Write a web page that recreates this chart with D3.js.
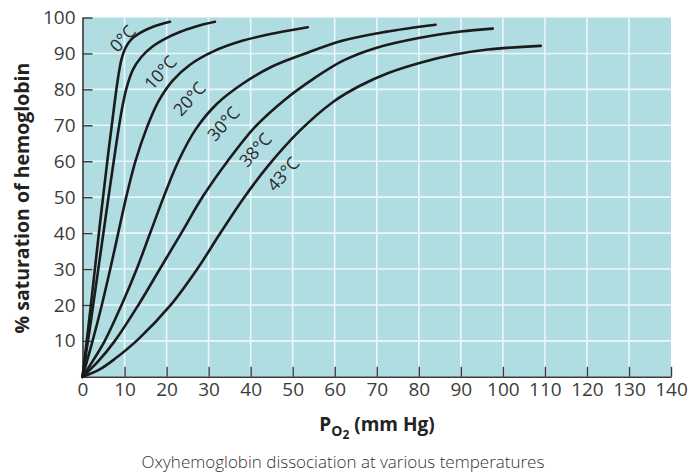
<!DOCTYPE html>
<html><head><meta charset="utf-8">
<script src="https://cdn.jsdelivr.net/npm/d3@7/dist/d3.min.js"></script>
<style>
html,body{margin:0;padding:0;background:#fff;}
svg{display:block;}
</style></head>
<body>
<svg id="chart" width="689" height="473"></svg>
<script>
// ---- data ----
const temperatures = ["0°C","10°C","20°C","30°C","38°C","43°C"];
const po2_0  = [0,2,4,6,7.5,8.5,9.3,10.2,11.5,13.5,16.5,20.8];
const sat_0  = [0,20,41,61,75,83.5,88.5,91.5,93.8,95.6,97.3,98.8];
const po2_10 = [0,2,4,6,8,9.3,10.5,12,14,16.5,19.5,23,27,31.5];
const sat_10 = [0,15.5,32,48.5,64.5,74,80.5,85.5,89,91.8,94,95.9,97.5,98.8];
const po2_20 = [0,2.4,4.6,6.6,8.5,10.4,12.6,15.2,18,21.5,25.5,31,38,46,53.6];
const sat_20 = [0,10,20,30,40,50,60,69,76.5,82.5,86.8,90.5,93.5,95.7,97.3];
const po2_30 = [0,2.5,5.3,9.3,12.9,16.1,19.3,22.8,27,32,38,45,53,62,72,84];
const sat_30 = [0,4.5,10,20,30,40,50,60,69,76,81.5,86.3,90,93.6,96,98];
const po2_38 = [0,3.5,7.7,13.3,18.4,23.5,28.7,34.5,41,48,55,62,70,80,90,97.6];
const sat_38 = [0,4,10,20,30,40,50.3,60,69.5,77,83,88,91.6,94.3,96.1,96.9];
const po2_43 = [0,4,7.7,13.3,21,27.3,32.8,38.2,44,51.7,59.6,66,72.6,80.6,88.5,96.4,109];
const sat_43 = [0,2,5,10.5,20,30,40,49.5,58.5,68.5,76.5,81,84.5,87.5,89.7,91.1,92.1];
const xTicks = [0,10,20,30,40,50,60,70,80,90,100,110,120,130,140];
const yTicks = [10,20,30,40,50,60,70,80,90,100];
// label anchor points (data units) for each curve label
const labelPo2 = [9.4,18.4,25.3,33.4,41,47.6];
const labelSat = [94.3,84.8,77.5,70.6,63.3,56.6];

const seriesX = [po2_0,po2_10,po2_20,po2_30,po2_38,po2_43];
const seriesY = [sat_0,sat_10,sat_20,sat_30,sat_38,sat_43];

// ---- layout ----
const padL = 82.5, padR = 671, padT = 17.5, padB = 376.8;
const svg = d3.select("#chart");
const x = d3.scaleLinear().domain([0,140]).range([padL,padR]);
const y = d3.scaleLinear().domain([0,100]).range([padB,padT]);
const font = "'Open Sans', Lato, sans-serif";

// background
svg.append("rect").attr("x",padL).attr("y",padT)
  .attr("width",padR-padL).attr("height",padB-padT).attr("fill","#b0dde2");

// grid
svg.append("g").selectAll("line").data(xTicks.filter(d=>d>0&&d<140)).join("line")
  .attr("x1",d=>x(d)).attr("x2",d=>x(d)).attr("y1",padT).attr("y2",padB)
  .attr("stroke","#eaf7f8").attr("stroke-width",1.6);
svg.append("g").selectAll("line").data(yTicks.filter(d=>d<100)).join("line")
  .attr("y1",d=>y(d)).attr("y2",d=>y(d)).attr("x1",padL).attr("x2",padR)
  .attr("stroke","#eaf7f8").attr("stroke-width",1.6);

// axes
const xAxis = d3.axisBottom(x).tickValues(xTicks).tickSizeInner(-10).tickSizeOuter(0).tickPadding(6);
const gx = svg.append("g").attr("transform",`translate(0,${padB})`).call(xAxis);
gx.select(".domain").attr("stroke","#3a3a3a").attr("stroke-width",1.6);
gx.selectAll(".tick line").attr("stroke","#3a3a3a").attr("stroke-width",1.4)
  .attr("display",d=>d===0?"none":null);
gx.selectAll(".tick text").attr("font-family",font).attr("font-size",19)
  .attr("fill","#3c3c3c");

const yAxis = d3.axisLeft(y).tickValues(yTicks).tickSizeInner(-10).tickSizeOuter(0).tickPadding(7);
const gy = svg.append("g").attr("transform",`translate(${padL},0)`).call(yAxis);
gy.select(".domain").attr("stroke","#3a3a3a").attr("stroke-width",1.6);
gy.selectAll(".tick line").attr("stroke","#3a3a3a").attr("stroke-width",1.4);
gy.selectAll(".tick text").attr("font-family",font).attr("font-size",19)
  .attr("fill","#3c3c3c");

// curves
const line = d3.line().x(d=>x(d[0])).y(d=>y(d[1])).curve(d3.curveCatmullRom.alpha(0.5));
seriesX.forEach((xs,i)=>{
  const pts = xs.map((v,j)=>[v, seriesY[i][j]]);
  svg.append("path").datum(pts).attr("d",line)
    .attr("fill","none").attr("stroke","#1b1b1b").attr("stroke-width",2.6)
    .attr("stroke-linecap","round");
});

// curve labels
temperatures.forEach((t,i)=>{
  const px = x(labelPo2[i]), py = y(labelSat[i]);
  svg.append("text").attr("transform",`translate(${px},${py}) rotate(-48)`)
    .attr("text-anchor","middle").attr("dominant-baseline","central")
    .attr("font-family",font).attr("font-size",17.5).attr("fill","#2a2a2a").text(t);
});

// axis titles
const xt = svg.append("text").attr("x",377).attr("y",431).attr("text-anchor","middle")
  .attr("font-family",font).attr("font-size",19).attr("font-weight",700).attr("fill","#222");
xt.append("tspan").text("P");
xt.append("tspan").attr("font-size",14).attr("dy",5).text("O");
xt.append("tspan").attr("font-size",12).attr("dy",3).text("2");
xt.append("tspan").attr("dy",-8).text(" (mm Hg)");

svg.append("text").attr("transform","translate(29,198) rotate(-90)").attr("text-anchor","middle")
  .attr("font-family",font).attr("font-size",19.5).attr("font-weight",700).attr("fill","#222")
  .text("% saturation of hemoglobin");

// caption
svg.append("text").attr("x",343).attr("y",468).attr("text-anchor","middle")
  .attr("font-family",font).attr("font-size",17).attr("font-weight",300).attr("fill","#333")
  .text("Oxyhemoglobin dissociation at various temperatures");
</script>
</body></html>
